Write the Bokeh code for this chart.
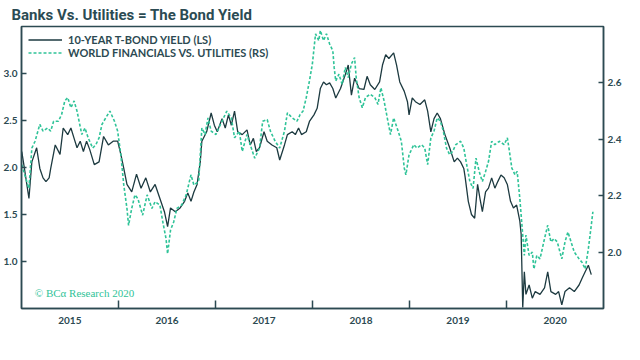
import pandas as pd
from bokeh.plotting import figure
from bokeh.models import (Range1d, LinearAxis, FixedTicker, DatetimeTickFormatter,
                          PrintfTickFormatter, Label, Legend)
from bokeh.embed import file_html
from bokeh.resources import INLINE

# ---------------- data ----------------
bond_dates = ["2015-01-02","2015-01-12","2015-01-29","2015-02-09","2015-02-27","2015-03-11","2015-03-23","2015-04-03","2015-04-15","2015-04-21",
"2015-05-08","2015-05-26","2015-06-07","2015-06-24","2015-07-06","2015-07-18","2015-07-29","2015-08-10","2015-08-22","2015-09-03",
"2015-09-15","2015-10-02","2015-10-20","2015-11-06","2015-11-24","2015-12-12","2015-12-29","2016-01-10","2016-01-21","2016-02-02",
"2016-02-20","2016-03-09","2016-03-26","2016-04-13","2016-04-30","2016-05-18","2016-06-05","2016-06-22","2016-07-04","2016-07-15",
"2016-08-02","2016-08-20","2016-09-06","2016-09-18","2016-09-30","2016-10-11","2016-10-23","2016-11-04","2016-11-10","2016-11-28",
"2016-12-15","2016-12-27","2017-01-07","2017-01-25","2017-02-06","2017-02-18","2017-03-01","2017-03-13","2017-03-25","2017-04-11",
"2017-04-29","2017-05-11","2017-05-23","2017-06-03","2017-06-15","2017-07-02","2017-07-14","2017-08-01","2017-08-19","2017-08-30",
"2017-09-17","2017-09-28","2017-10-16","2017-10-28","2017-11-09","2017-11-20","2017-12-08","2017-12-20","2018-01-06","2018-01-18",
"2018-01-30","2018-02-11","2018-02-22","2018-03-06","2018-03-18","2018-03-29","2018-04-16","2018-05-04","2018-05-15","2018-05-27",
"2018-06-08","2018-06-25","2018-07-13","2018-07-25","2018-08-06","2018-08-23","2018-09-10","2018-09-21","2018-10-03","2018-10-15",
"2018-11-02","2018-11-13","2018-11-25","2018-12-12","2018-12-24","2018-12-30","2019-01-11","2019-01-23","2019-02-09","2019-02-27",
"2019-03-10","2019-03-22","2019-04-03","2019-04-15","2019-04-27","2019-05-14","2019-06-01","2019-06-18","2019-06-30","2019-07-12",
"2019-07-24","2019-07-29","2019-08-10","2019-08-22","2019-09-03","2019-09-14","2019-09-23","2019-10-02","2019-10-14","2019-10-25",
"2019-11-06","2019-11-18","2019-11-29","2019-12-11","2019-12-23","2020-01-04","2020-01-16","2020-01-27","2020-02-08","2020-02-20",
"2020-02-25","2020-03-02","2020-03-08","2020-03-14","2020-03-26","2020-04-07","2020-04-18","2020-05-06","2020-05-23","2020-06-04",
"2020-06-16","2020-07-04","2020-07-15","2020-07-27","2020-08-08","2020-08-25","2020-09-12","2020-09-30","2020-10-11","2020-10-23",
"2020-11-04","2020-11-15"]
bond_yield = [2.17,1.99,1.67,2.06,2.21,1.99,1.89,1.85,1.89,1.99,
2.24,2.14,2.42,2.35,2.42,2.31,2.21,2.28,2.17,2.28,
2.19,2.03,2.06,2.33,2.24,2.28,2.28,2.14,1.99,1.82,
1.74,1.93,1.78,1.89,1.74,1.82,1.67,1.53,1.37,1.57,
1.53,1.57,1.64,1.73,1.64,1.74,1.82,2.06,2.28,2.38,
2.58,2.45,2.38,2.52,2.42,2.56,2.45,2.60,2.38,2.35,
2.40,2.24,2.31,2.17,2.21,2.38,2.28,2.24,2.21,2.08,
2.24,2.35,2.38,2.35,2.42,2.35,2.38,2.49,2.56,2.63,
2.84,2.91,2.88,2.90,2.84,2.74,2.84,2.99,3.09,2.77,
2.95,2.84,2.83,2.97,2.88,2.83,2.91,3.09,3.20,3.16,
3.22,3.09,2.91,2.81,2.70,2.56,2.74,2.70,2.67,2.72,
2.60,2.38,2.52,2.58,2.52,2.35,2.21,2.06,2.10,2.06,
1.99,1.90,1.64,1.50,1.46,1.82,1.67,1.53,1.74,1.78,
1.89,1.78,1.85,1.92,1.89,1.82,1.64,1.57,1.60,1.43,
1.29,0.51,0.89,0.65,0.75,0.61,0.68,0.65,0.72,0.89,
0.68,0.65,0.68,0.54,0.68,0.72,0.68,0.75,0.82,0.89,
0.96,0.86]

fin_dates = ["2015-01-02","2015-01-17","2015-01-29","2015-02-09","2015-02-21","2015-03-11","2015-03-23","2015-04-09","2015-04-21","2015-05-02",
"2015-05-20","2015-06-01","2015-06-13","2015-06-24","2015-07-06","2015-07-18","2015-07-29","2015-08-16","2015-08-28","2015-09-09",
"2015-09-26","2015-10-08","2015-10-20","2015-10-31","2015-11-18","2015-11-30","2015-12-17","2015-12-29","2016-01-10","2016-01-21",
"2016-02-02","2016-02-08","2016-02-20","2016-03-03","2016-03-14","2016-04-01","2016-04-18","2016-05-06","2016-05-18","2016-06-05",
"2016-06-16","2016-06-28","2016-07-04","2016-07-15","2016-07-27","2016-08-08","2016-08-26","2016-09-12","2016-09-30","2016-10-11",
"2016-10-29","2016-11-10","2016-11-22","2016-12-03","2016-12-15","2017-01-02","2017-01-19","2017-02-12","2017-03-01","2017-03-13",
"2017-03-31","2017-04-11","2017-04-29","2017-05-11","2017-05-28","2017-06-15","2017-06-27","2017-07-14","2017-07-26","2017-08-13",
"2017-08-30","2017-09-17","2017-09-28","2017-10-16","2017-11-03","2017-11-15","2017-11-26","2017-12-08","2017-12-20","2017-12-31",
"2018-01-12","2018-01-24","2018-01-30","2018-02-11","2018-02-22","2018-03-06","2018-03-18","2018-03-23","2018-03-29","2018-04-10",
"2018-04-22","2018-05-04","2018-05-15","2018-05-27","2018-06-08","2018-06-14","2018-06-25","2018-07-07","2018-07-19","2018-08-06",
"2018-08-23","2018-09-04","2018-09-15","2018-09-27","2018-10-09","2018-10-21","2018-11-02","2018-11-19","2018-12-01","2018-12-12",
"2018-12-18","2018-12-30","2019-01-17","2019-01-29","2019-02-15","2019-02-27","2019-03-10","2019-03-22","2019-04-03","2019-04-15",
"2019-04-27","2019-05-08","2019-05-20","2019-06-01","2019-06-12","2019-06-24","2019-07-12","2019-07-24","2019-08-04","2019-08-16",
"2019-08-28","2019-09-08","2019-09-20","2019-10-02","2019-10-14","2019-10-25","2019-11-06","2019-11-18","2019-12-05","2019-12-23",
"2020-01-04","2020-01-10","2020-01-21","2020-02-02","2020-02-10","2020-02-20","2020-02-25","2020-03-02","2020-03-08","2020-03-14",
"2020-03-26","2020-04-07","2020-04-13","2020-04-24","2020-05-06","2020-05-23","2020-06-04","2020-06-16","2020-06-28","2020-07-10",
"2020-07-27","2020-08-08","2020-08-19","2020-08-31","2020-09-12","2020-09-30","2020-10-11","2020-10-23","2020-11-04","2020-11-15",
"2020-11-21"]
fin_vs_util = [2.310,2.262,2.226,2.369,2.393,2.453,2.429,2.440,2.429,2.464,
2.464,2.488,2.536,2.548,2.512,2.536,2.500,2.417,2.440,2.405,
2.369,2.381,2.405,2.453,2.482,2.500,2.464,2.429,2.345,2.238,
2.155,2.095,2.155,2.203,2.190,2.131,2.203,2.155,2.179,2.167,
2.107,2.048,1.994,2.078,2.107,2.155,2.167,2.203,2.274,2.238,
2.250,2.440,2.417,2.476,2.429,2.417,2.453,2.500,2.476,2.405,
2.429,2.357,2.417,2.381,2.333,2.369,2.464,2.470,2.429,2.393,
2.369,2.429,2.494,2.476,2.464,2.488,2.500,2.548,2.607,2.667,
2.774,2.750,2.786,2.750,2.774,2.738,2.714,2.655,2.607,2.631,
2.595,2.655,2.619,2.667,2.690,2.619,2.548,2.512,2.548,2.560,
2.548,2.524,2.583,2.536,2.476,2.417,2.476,2.429,2.393,2.298,
2.274,2.345,2.381,2.369,2.381,2.369,2.310,2.405,2.429,2.476,
2.464,2.429,2.369,2.345,2.357,2.381,2.393,2.369,2.310,2.250,
2.226,2.333,2.286,2.250,2.286,2.321,2.393,2.381,2.393,2.381,
2.405,2.369,2.298,2.274,2.286,2.190,2.131,2.060,1.988,2.060,
1.988,2.000,1.940,1.988,1.976,2.048,2.095,2.036,2.048,2.036,
1.976,2.036,2.071,2.036,2.000,1.976,1.964,1.940,2.012,2.095,
2.143]

years = [2015, 2016, 2017, 2018, 2019, 2020]
left_ticks = [1.0, 1.5, 2.0, 2.5, 3.0]
right_ticks = [2.0, 2.2, 2.4, 2.6]
series_names = ["10-YEAR T-BOND YIELD (LS)", "WORLD FINANCIALS VS. UTILITIES (RS)"]

# ---------------- styling ----------------
DARK = "#1d3a40"
GREEN = "#2fc398"
AXIS = "#2c4a52"
FONT = "Lato"

def ms(s):
    return pd.Timestamp(s).value / 1e6

bx = pd.to_datetime(bond_dates)
fx = pd.to_datetime(fin_dates)

p = figure(width=624, height=326, x_axis_type="datetime",
           x_range=Range1d(ms("2015-01-01"), ms("2020-12-31")),
           y_range=Range1d(0.5, 3.5),
           output_backend="svg", toolbar_location=None,
           min_border_left=4, min_border_right=4, min_border_top=2, min_border_bottom=6)
p.extra_y_ranges = {"rs": Range1d(1.8, 2.8)}

p.title.text = "Banks Vs. Utilities = The Bond Yield"
p.title.text_font = "Roboto"
p.title.text_font_size = "15px"
p.title.text_font_style = "bold"
p.title.text_color = "#2b4b53"
p.title.offset = -10
p.title.standoff = 6

p.xgrid.visible = False
p.ygrid.visible = False
p.outline_line_color = AXIS
p.outline_line_width = 1.5
p.background_fill_color = "white"
p.border_fill_color = "white"

r1 = p.line(bx, bond_yield, line_color=DARK, line_width=1.3)
r2 = p.line(fx, fin_vs_util, y_range_name="rs", line_color=GREEN, line_width=1.6,
            line_dash="3 2")

# x axis: labels mid-year, tick marks at year boundaries
xa = p.xaxis[0]
xa.ticker = FixedTicker(ticks=[ms(f"{y}-07-02") for y in years],
                        minor_ticks=[ms(f"{y}-01-01") for y in years[1:]])
xa.formatter = DatetimeTickFormatter(years="%Y", months="%Y", days="%Y", hours="%Y")
xa.major_tick_in = 0
xa.major_tick_out = 0
xa.minor_tick_in = 8
xa.minor_tick_out = 0
xa.minor_tick_line_color = AXIS
xa.minor_tick_line_width = 1.5
xa.axis_line_color = AXIS
xa.axis_line_width = 1.5
xa.major_label_text_font = FONT
xa.major_label_text_font_style = "bold"
xa.major_label_text_font_size = "10px"
xa.major_label_text_color = AXIS
xa.major_label_standoff = 8

ya = p.yaxis[0]
ya.ticker = FixedTicker(ticks=left_ticks)
ya.formatter = PrintfTickFormatter(format="%.1f")
ya.major_tick_in = 5
ya.major_tick_out = 0
ya.minor_tick_line_color = None
ya.axis_line_color = AXIS
ya.axis_line_width = 1.5
ya.major_tick_line_color = AXIS
ya.major_tick_line_width = 1.5
ya.major_label_text_font = FONT
ya.major_label_text_font_style = "bold"
ya.major_label_text_font_size = "10px"
ya.major_label_text_color = AXIS
ya.major_label_standoff = 4

ra = LinearAxis(y_range_name="rs", ticker=FixedTicker(ticks=right_ticks),
                formatter=PrintfTickFormatter(format="%.1f"))
ra.major_tick_in = 5
ra.major_tick_out = 0
ra.minor_tick_line_color = None
ra.axis_line_color = AXIS
ra.axis_line_width = 1.5
ra.major_tick_line_color = AXIS
ra.major_tick_line_width = 1.5
ra.major_label_text_font = FONT
ra.major_label_text_font_style = "bold"
ra.major_label_text_font_size = "10px"
ra.major_label_text_color = AXIS
ra.major_label_standoff = 4
p.add_layout(ra, "right")

legend = Legend(items=[(series_names[0], [r1]), (series_names[1], [r2])],
                location="top_left")
legend.border_line_color = None
legend.background_fill_alpha = 0
legend.label_text_font = FONT
legend.label_text_font_style = "bold"
legend.label_text_font_size = "11px"
legend.label_text_color = AXIS
legend.glyph_width = 34
legend.glyph_height = 9
legend.label_height = 9
legend.spacing = 0
legend.padding = 0
legend.margin = 7
legend.label_standoff = 6
p.add_layout(legend)

p.add_layout(Label(x=ms("2015-01-01"), y=3.5, x_offset=-6, y_offset=2, text="%",
                   text_align="right", text_baseline="middle", text_font=FONT,
                   text_font_style="bold", text_font_size="10px", text_color=AXIS))
p.add_layout(Label(x=ms("2015-02-20"), y=0.66, text="\u00a9 BC\u03b1 Research 2020",
                   text_font="Liberation Serif", text_font_size="11px",
                   text_color=GREEN, text_baseline="middle"))

open("out.html", "w").write(file_html(p, INLINE))
